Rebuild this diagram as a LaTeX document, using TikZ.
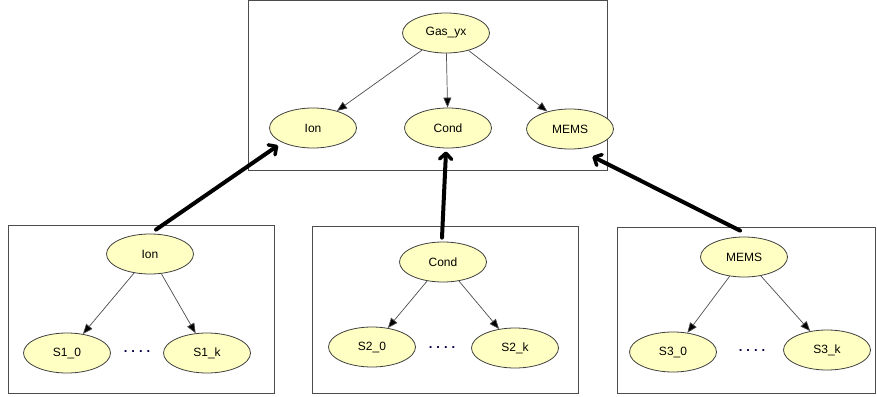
\documentclass[tikz,border=0pt]{standalone}
\usepackage{fontspec}
\setmainfont{Liberation Sans}
\usetikzlibrary{arrows.meta,shapes.geometric}
\begin{document}
\begin{tikzpicture}[x=1pt,y=-1pt,
  bn/.style={ellipse, draw=black!75, line width=0.8pt, fill={rgb,255:red,255;green,255;blue,196},
    minimum width=87pt, minimum height=40pt, inner sep=0pt, font=\fontsize{12}{14}\selectfont},
  frame/.style={draw=black!70, line width=1pt},
  thinarr/.style={draw=black!70, line width=0.7pt, -{Triangle[length=10pt,width=8pt,fill=black]}},
  thickarr/.style={draw=black, line width=4pt, line cap=round, -{Straight Barb[length=6pt,width=12pt,line width=3.5pt,round]}},
  dotsnode/.style={font=\fontsize{13}{13}\selectfont\bfseries, text=black!70!blue, inner sep=0pt}
]
\useasboundingbox (0,0) rectangle (877,396);
\newcommand\mydots{.\hspace{4pt}.\hspace{4pt}.\hspace{4pt}.}
% frames
\draw[frame] (248,1) rectangle (607,170);
\draw[frame] (8,225) rectangle (274,393);
\draw[frame] (312,226) rectangle (578,393);
\draw[frame] (617,227) rectangle (875,393);
% top network
\node[bn] (gas) at (446,33) {Gas\_yx};
\node[bn] (ionT) at (313,128) {Ion};
\node[bn] (condT) at (448,128) {Cond};
\node[bn] (memsT) at (570,129) {MEMS};
\draw[thinarr] (gas) -- (ionT);
\draw[thinarr] (gas) -- (condT);
\draw[thinarr] (gas) -- (memsT);
% bottom 1
\node[bn] (ionB) at (150,254) {Ion};
\node[bn] (s10) at (67,353) {S1\_0};
\node[bn] (s1k) at (207,353) {S1\_k};
\node[dotsnode] (d1) at (137,352) {\mydots};
\draw[thinarr] (ionB) -- (s10);
\draw[thinarr] (ionB) -- (s1k);
% bottom 2
\node[bn] (condB) at (443,262) {Cond};
\node[bn] (s20) at (372,347) {S2\_0};
\node[bn] (s2k) at (515,348) {S2\_k};
\node[dotsnode] (d2) at (442,348) {\mydots};
\draw[thinarr] (condB) -- (s20);
\draw[thinarr] (condB) -- (s2k);
% bottom 3
\node[bn] (memsB) at (744,257) {MEMS};
\node[bn] (s30) at (673,352) {S3\_0};
\node[bn] (s3k) at (827,350) {S3\_k};
\node[dotsnode] (d3) at (752,351) {\mydots};
\draw[thinarr] (memsB) -- (s30);
\draw[thinarr] (memsB) -- (s3k);
% thick links
\draw[thickarr] ([shift={(6,-4)}]ionB.north) -- ([shift={(-4,3)}]ionT.205);
\draw[thickarr] ([shift={(-1,-4)}]condB.north) -- ([shift={(-2,3)}]condT.south);
\draw[thickarr] ([shift={(-4,-6)}]memsB.north) -- ([shift={(4,9)}]memsT.315);
\end{tikzpicture}
\end{document}
